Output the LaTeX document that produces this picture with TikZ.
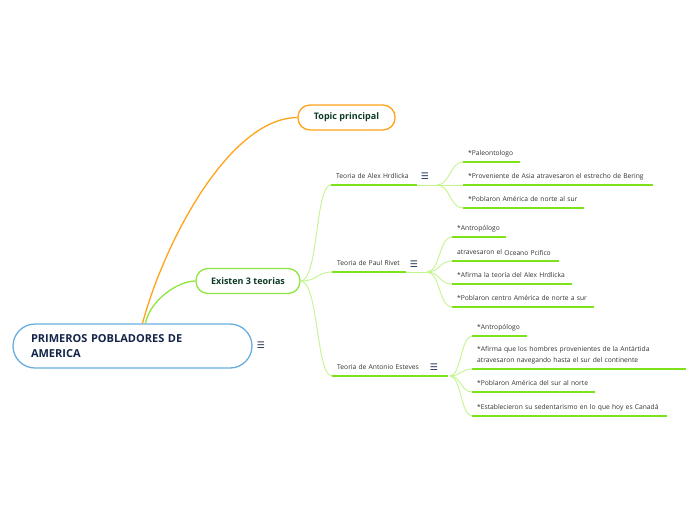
\documentclass[tikz,border=0pt]{standalone}
\usepackage{fontspec}
\setmainfont{Open Sans}
\newfontfamily\iconfont{DejaVu Sans}
\usetikzlibrary{positioning}

\definecolor{azulborde}{HTML}{6AAEE0}
\definecolor{azultexto}{HTML}{15254A}
\definecolor{naranja}{HTML}{FFA31A}
\definecolor{verdeborde}{HTML}{8FE640}
\definecolor{verdetexto}{HTML}{0E3B26}
\definecolor{verderama}{HTML}{C2F58E}
\definecolor{verdelinea}{HTML}{7EE21A}
\definecolor{gristexto}{HTML}{333333}

\begin{document}
\begin{tikzpicture}[x=1pt, y=-1pt,
        central/.style={rectangle, rounded corners=22pt, draw=azulborde, line width=1.3pt, fill=white, minimum width=239pt, minimum height=44pt, text width=203pt, align=left, font=\fontsize{11}{15}\selectfont\bfseries, text=azultexto},
        tema/.style={rectangle, rounded corners=12pt, draw, line width=1.3pt, fill=white, minimum height=25pt, font=\fontsize{9}{11}\selectfont\bfseries, text=verdetexto},
        teoria/.style={anchor=south west, inner xsep=5pt, inner ysep=4.5pt, text height=5pt, text depth=2pt, align=left, font=\fontsize{6.7}{11}\selectfont, text=gristexto},
        hoja/.style={anchor=south west, inner xsep=5pt, inner ysep=4.5pt, text height=5pt, text depth=2pt, align=left, font=\fontsize{6.7}{11}\selectfont, text=gristexto},
        subraya/.style={verdelinea, line width=1.5pt},
        rama/.style={verderama, line width=0.9pt},
        icono/.style={font=\iconfont\fontsize{9}{9}\selectfont, text=azultexto, inner sep=0pt}]

        \useasboundingbox (0,0) rectangle (696,520);

        % Nodo central y temas
        \node[central] (main) at (132.5,346) {PRIMEROS POBLADORES DE\\AMERICA};
        \node[icono] (imain) at (261,345) {☰};
        \node[tema, draw=naranja, minimum width=97pt] (tp) at (346.5,117.5) {Topic principal};
        \node[tema, draw=verdeborde, minimum width=104pt] (e3) at (248,281) {Existen 3 teorias};

        \draw[naranja, line width=1.3pt] ([xshift=10pt]main.north) .. controls (165,240) and (230,118) .. (tp.west);
        \draw[verdeborde, line width=1.3pt] ([xshift=13pt]main.north) .. controls (150,300) and (178,281) .. (e3.west);

        % Teorias
        \node[teoria, text width=76pt] (t1) at (331,185) {Teoria de Alex Hrdlicka};
        \node[teoria, text width=64pt] (t2) at (332,272) {Teoria de Paul Rivet};
        \node[teoria, text width=106pt] (t3) at (332,376) {Teoria de Antonio Esteves};
        \node[icono] (i1) at (425,176) {☰};
        \node[icono] (i2) at (414,264) {☰};
        \node[icono] (i3) at (434,367) {☰};

        \foreach \t in {t1,t2,t3}{
            \draw[rama] (e3.east) .. controls +(18,0) and +(-16,0) .. (\t.south west);
            \draw[subraya] (\t.south west) -- (\t.south east);
        }

        \coordinate (b1) at (437,185);
        \coordinate (b2) at (427,272);
        \coordinate (b3) at (450,376);
        \draw[rama] (t1.south east) -- (b1);
        \draw[rama] (t2.south east) -- (b2);

        % Hojas de Alex Hrdlicka
        \node[hoja, text width=47pt] (a1) at (463,162) {*Paleontologo};
        \node[hoja, text width=180pt] (a2) at (463,185) {*Proveniente de Asia atravesaron el estrecho de Bering};
        \node[hoja, text width=111pt] (a3) at (463,208) {*Poblaron América de norte al sur};

        % Hojas de Paul Rivet
        \node[hoja, text width=44pt] (p1) at (452,237) {*Antropólogo};
        \node[hoja, text width=97pt] (p2) at (452,261) {atravesaron el \raisebox{-0.8pt}{Oceano Pcifico}};
        \node[hoja, text width=110pt] (p3) at (452,284) {*Afirma la teoría del Alex Hrdlicka};
        \node[hoja, text width=132pt] (p4) at (452,307) {*Poblaron centro América de norte a sur};

        % Hojas de Antonio Esteves
        \node[hoja, text width=45pt] (s1) at (472,336) {*Antropólogo};
        \node[hoja, text width=204pt, text depth=13pt] (s2) at (472,369) {*Afirma que los hombres provenientes de la Antártida\\atravesaron navegando hasta el sur del continente};
        \node[hoja, text width=113pt] (s3) at (472,392) {*Poblaron América del sur al norte};
        \node[hoja, text width=185pt] (s4) at (472,416) {*Establecieron su sedentarismo en lo que hoy es Canadá};

        \foreach \h in {a1,a2,a3}{
            \draw[rama] (b1) .. controls +(13,0) and +(-13,0) .. (\h.south west);
            \draw[subraya] (\h.south west) -- (\h.south east);
        }
        \foreach \h in {p1,p2,p3,p4}{
            \draw[rama] (b2) .. controls +(13,0) and +(-13,0) .. (\h.south west);
            \draw[subraya] (\h.south west) -- (\h.south east);
        }
        \foreach \h in {s1,s2,s3,s4}{
            \draw[rama] (b3) .. controls +(11,0) and +(-11,0) .. (\h.south west);
            \draw[subraya] (\h.south west) -- (\h.south east);
        }
    \end{tikzpicture}
\end{document}
